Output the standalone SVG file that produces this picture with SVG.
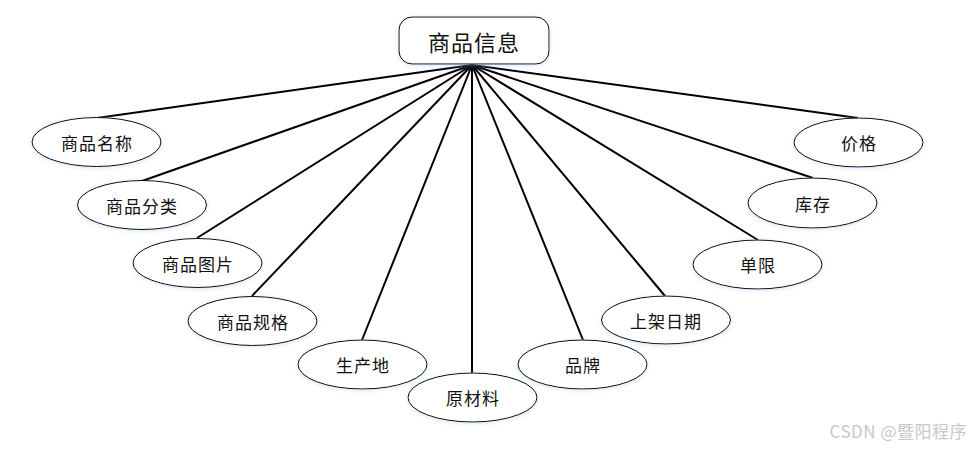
<svg xmlns="http://www.w3.org/2000/svg" width="971" height="449" viewBox="0 0 971 449">
<defs>
<filter id="glow" x="-20%" y="-30%" width="140%" height="160%">
<feDropShadow dx="0" dy="1" stdDeviation="2" flood-color="#9fc3e8" flood-opacity="0.45"/>
</filter>
<style>
.attr ellipse{fill:#fff;stroke:#000;stroke-width:1;filter:url(#glow)}
.attr text{font-family:"Noto Sans CJK SC","Noto Sans",sans-serif;font-size:17px;fill:#111;text-anchor:middle;dominant-baseline:central;letter-spacing:1px}
#links line{stroke:#000;stroke-width:2}
.title rect{fill:#fff;stroke:#000;stroke-width:1;filter:url(#glow)}
.title text{font-family:"Noto Sans CJK SC","Noto Sans",sans-serif;font-size:22px;fill:#111;text-anchor:middle;dominant-baseline:central;letter-spacing:1px}
.wm{font-family:"Noto Sans CJK SC","Noto Sans",sans-serif;font-size:17px;fill:#c8c8c8;text-anchor:end;letter-spacing:0.5px}
</style>
</defs>
<rect width="971" height="449" fill="#fff"/>
<g id="links">
<line x1="472" y1="65" x2="97" y2="118"/>
<line x1="472" y1="65" x2="142" y2="181"/>
<line x1="472" y1="65" x2="197" y2="238"/>
<line x1="472" y1="65" x2="252" y2="296"/>
<line x1="472" y1="65" x2="362" y2="340"/>
<line x1="472" y1="65" x2="472" y2="373"/>
<line x1="472" y1="65" x2="583" y2="340"/>
<line x1="472" y1="65" x2="665" y2="296"/>
<line x1="472" y1="65" x2="758" y2="240"/>
<line x1="472" y1="65" x2="813" y2="178"/>
<line x1="472" y1="65" x2="858" y2="118"/>
</g>
<g id="n_goods" class="title">
<rect x="399" y="17" width="150" height="47" rx="13" ry="13"/>
<text x="474" y="41">商品信息</text>
</g>
<g id="n_name" class="attr"><ellipse cx="96.5" cy="142" rx="64.5" ry="24.5"/><text x="97" y="142">商品名称</text></g>
<g id="n_cat" class="attr"><ellipse cx="142" cy="205" rx="64.5" ry="24.5"/><text x="142" y="205">商品分类</text></g>
<g id="n_pic" class="attr"><ellipse cx="197.5" cy="263" rx="64.5" ry="24.5"/><text x="198" y="263">商品图片</text></g>
<g id="n_spec" class="attr"><ellipse cx="252.5" cy="321" rx="64.5" ry="24.5"/><text x="253" y="321">商品规格</text></g>
<g id="n_origin" class="attr"><ellipse cx="362.5" cy="364.5" rx="64.5" ry="24.5"/><text x="363" y="364">生产地</text></g>
<g id="n_material" class="attr"><ellipse cx="472.5" cy="397.5" rx="64.5" ry="24.5"/><text x="473" y="397">原材料</text></g>
<g id="n_brand" class="attr"><ellipse cx="582.5" cy="364.5" rx="64.5" ry="24.5"/><text x="583" y="364">品牌</text></g>
<g id="n_date" class="attr"><ellipse cx="666" cy="320" rx="64.5" ry="24"/><text x="666" y="320">上架日期</text></g>
<g id="n_limit" class="attr"><ellipse cx="757.5" cy="264.5" rx="64.5" ry="24.5"/><text x="758" y="264">单限</text></g>
<g id="n_stock" class="attr"><ellipse cx="812.5" cy="203" rx="64.5" ry="25"/><text x="813" y="203">库存</text></g>
<g id="n_price" class="attr"><ellipse cx="858.5" cy="142.5" rx="64.5" ry="24.5"/><text x="859" y="142">价格</text></g>
<text class="wm" x="967" y="438">CSDN @暨阳程序</text>
</svg>
